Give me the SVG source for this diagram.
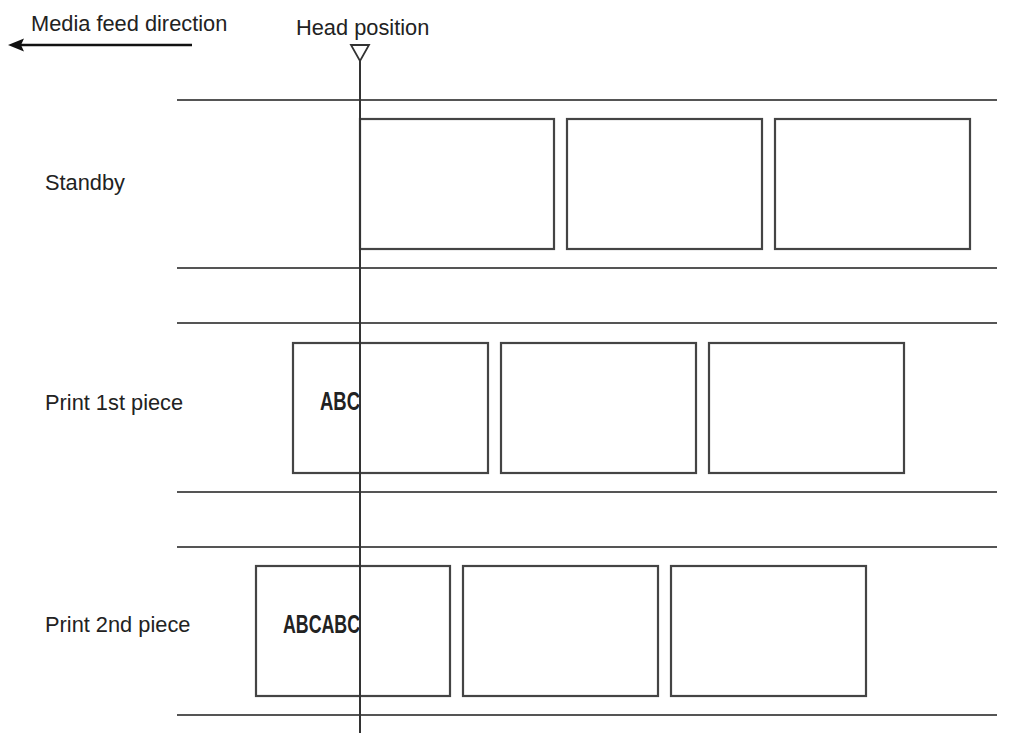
<svg xmlns="http://www.w3.org/2000/svg" width="1017" height="737" viewBox="0 0 1017 737">
<style>
.lbl{font-family:"Liberation Sans",Arial,sans-serif;font-size:21.8px;fill:#222}
.prt{font-family:"Liberation Sans",Arial,sans-serif;font-size:26px;font-weight:bold;fill:#222}
.rail{stroke:#555;stroke-width:2;fill:none}
.box{stroke:#444;stroke-width:2.2;fill:none}
</style>
<rect width="1017" height="737" fill="#fff"/>
<text class="lbl" x="31" y="31">Media feed direction</text>
<text class="lbl" x="296" y="35">Head position</text>
<g id="connectors">
<line x1="192" y1="45" x2="20" y2="45" stroke="#111" stroke-width="2.5"/>
<path d="M8,45 L24,38.5 L21,45 L24,51.5 Z" fill="#111"/>
</g>
<g id="rails">
<line class="rail" x1="177" y1="100" x2="997" y2="100"/>
<line class="rail" x1="177" y1="268" x2="997" y2="268"/>
<line class="rail" x1="177" y1="323" x2="997" y2="323"/>
<line class="rail" x1="177" y1="492" x2="997" y2="492"/>
<line class="rail" x1="177" y1="547" x2="997" y2="547"/>
<line class="rail" x1="177" y1="715" x2="997" y2="715"/>
</g>
<g id="standby">
<text class="lbl" x="45" y="190">Standby</text>
<rect class="box" x="360" y="119" width="194" height="130"/>
<rect class="box" x="567" y="119" width="195" height="130"/>
<rect class="box" x="775" y="119" width="195" height="130"/>
</g>
<g id="print1">
<text class="lbl" x="45" y="410">Print 1st piece</text>
<rect class="box" x="293" y="343" width="195" height="130"/>
<rect class="box" x="501" y="343" width="195" height="130"/>
<rect class="box" x="709" y="343" width="195" height="130"/>
<text class="prt" x="320" y="410" textLength="40" lengthAdjust="spacingAndGlyphs">ABC</text>
</g>
<g id="print2">
<text class="lbl" x="45" y="632">Print 2nd piece</text>
<rect class="box" x="256" y="566" width="194" height="130"/>
<rect class="box" x="463" y="566" width="195" height="130"/>
<rect class="box" x="671" y="566" width="195" height="130"/>
<text class="prt" x="283" y="633" textLength="77" lengthAdjust="spacingAndGlyphs">ABCABC</text>
</g>
<g id="head">
<path d="M351,45 L369,45 L360,61 Z" fill="#fff" stroke="#333" stroke-width="1.8"/>
<line x1="360" y1="61" x2="360" y2="733" stroke="#333" stroke-width="2"/>
</g>
</svg>
